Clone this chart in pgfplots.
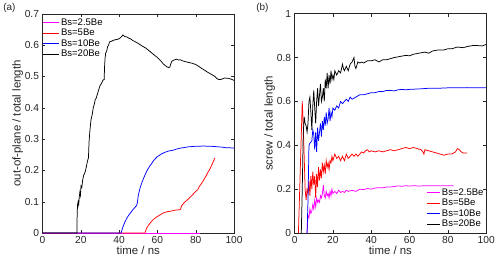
\documentclass[border=0pt]{standalone}
\usepackage{pgfplots}
\pgfplotsset{compat=1.18}
\usepackage{fontspec}
\setmainfont{Liberation Sans}
\definecolor{axgray}{rgb}{0.15,0.15,0.15}
\definecolor{mag}{rgb}{1,0,1}
\pgfplotsset{
  myax/.style={
    scale only axis, width=193pt, height=221pt,
    xmin=0, xmax=100, ymin=0,
    axis line style={axgray, line width=0.4pt},
    tick style={axgray, line width=0.4pt},
    tick align=inside, major tick length=3pt,
    xtick={0,20,40,60,80,100},
    tick label style={font=\fontsize{10.3}{12}\selectfont, text=axgray},
    label style={font=\fontsize{11.5}{14}\selectfont, text=axgray},
    /pgf/number format/assume math mode=true,
    yticklabel style={/pgf/number format/fixed},
    legend style={draw=none, fill=none, font=\fontsize{9.6}{11}\selectfont, row sep=-0.5pt, inner sep=1pt,
      nodes={inner sep=1.5pt}},
    legend cell align=left,
    every axis plot/.append style={line width=0.75pt},
    xlabel={time / ns},
    xlabel shift=-4pt,
  }
}
\begin{document}
\begin{tikzpicture}
\path (-41pt,-32pt) rectangle (457pt,231pt);
\begin{axis}[myax, ymax=0.7, ytick={0,0.1,0.2,0.3,0.4,0.5,0.6,0.7},
  ylabel={out-of-plane / total length}, ylabel shift=-5pt,
  legend image code/.code={\draw[#1, line width=1pt] (0pt,0pt) -- (16pt,0pt);},
  legend style={at={(0.0,1.0)}, anchor=north west, xshift=-1pt, yshift=-2pt}]
\addplot[mag] coordinates {(0,0)(82,0)};
\addplot[red] coordinates {(0,0)(53.5,0)(54,0.01)(55,0.022)(56,0.03)(57,0.038)(58,0.044)(60,0.053)(62,0.06)(63,0.064)(65,0.068)(66,0.069)(68,0.071)(69,0.073)(71,0.074)(72,0.075)(72.5,0.085)(73,0.09)(74,0.097)(76,0.108)(78,0.12)(80,0.133)(81,0.138)(82,0.15)(83,0.158)(84,0.168)(85,0.178)(86,0.19)(87,0.2)(88,0.212)(89,0.226)(90,0.24)};
\addplot[blue] coordinates {(0,0)(41,0)(41.5,0.01)(42,0.02)(43,0.035)(44,0.047)(45,0.057)(46,0.065)(47,0.073)(48,0.08)(49,0.087)(49.5,0.095)(50,0.12)(51,0.145)(52,0.163)(53,0.178)(54,0.192)(55,0.204)(56,0.214)(57,0.222)(58,0.231)(59,0.238)(60,0.244)(62,0.252)(64,0.258)(66,0.262)(68,0.264)(70,0.268)(72,0.271)(74,0.273)(76,0.275)(78,0.276)(80,0.277)(82,0.277)(84,0.278)(86,0.277)(88,0.277)(90,0.276)(92,0.275)(94,0.274)(96,0.272)(98,0.272)(100,0.271)};
\addplot[black] coordinates {(0,0)(18,0)(18.1,0.06)(18.3,0.09)(18.6,0.1)(18.9,0.09)(19.2,0.115)(19.5,0.13)(19.8,0.12)(20.1,0.15)(20.5,0.145)(21,0.17)(21.5,0.185)(22,0.19)(22.5,0.2)(23,0.215)(23.5,0.23)(24,0.24)(24.3,0.29)(24.8,0.33)(25.3,0.36)(26,0.38)(26.5,0.4)(27,0.41)(27.5,0.425)(28,0.43)(28.5,0.44)(29,0.45)(29.5,0.46)(30,0.47)(30.5,0.475)(31,0.48)(31.5,0.487)(32,0.49)(32.2,0.49)(32.4,0.53)(32.7,0.56)(33,0.575)(33.5,0.58)(34,0.595)(34.5,0.6)(35,0.61)(36,0.612)(37,0.615)(38,0.617)(39,0.618)(40,0.62)(41,0.625)(42,0.632)(43,0.627)(44,0.626)(45,0.622)(46,0.62)(47,0.615)(48,0.612)(50,0.605)(52,0.597)(54,0.59)(56,0.58)(58,0.57)(60,0.56)(62,0.548)(63,0.54)(64,0.535)(65,0.53)(66,0.528)(66.5,0.53)(67,0.54)(67.5,0.548)(68,0.55)(69,0.553)(70,0.555)(71,0.552)(72,0.553)(73,0.55)(74,0.548)(76,0.545)(78,0.542)(80,0.538)(82,0.53)(84,0.522)(86,0.514)(88,0.507)(90,0.5)(91,0.493)(92,0.49)(93,0.49)(94,0.492)(95,0.495)(96,0.494)(97,0.494)(98,0.492)(99,0.49)(100,0.487)};
\legend{Bs=2.5Be, Bs=5Be, Bs=10Be, Bs=20Be}
\end{axis}
\node[font=\fontsize{10}{12}\selectfont, text=axgray, anchor=north west] at (-43pt,235pt) {(a)};
\begin{axis}[myax, xshift=254pt, ymax=1, ytick={0,0.2,0.4,0.6,0.8,1},
  ylabel={screw / total length}, ylabel shift=-5pt,
  legend image code/.code={\draw[#1, line width=1.2pt] (0pt,0pt) -- (13pt,0pt);},
  legend style={at={(1.0,0.0)}, anchor=south east, xshift=0pt, yshift=2pt}]
\addplot[mag] coordinates {(6.5,0)(6.8,0.05)(7,0.08)(7.5,0.07)(8,0.11)(8.5,0.09)(9,0.1)(9.5,0.13)(10,0.11)(10.5,0.15)(11,0.12)(11.5,0.16)(12,0.14)(12.5,0.15)(13,0.14)(13.5,0.17)(14,0.16)(14.5,0.18)(15,0.22)(15.5,0.17)(16,0.16)(16.5,0.19)(17,0.17)(17.5,0.18)(18,0.16)(18.5,0.19)(19,0.17)(19.5,0.2)(20,0.18)(21,0.19)(22,0.18)(23,0.195)(24,0.185)(25,0.19)(26,0.185)(27,0.195)(28,0.19)(30,0.195)(32,0.19)(34,0.2)(36,0.198)(38,0.203)(40,0.2)(42,0.205)(44,0.207)(46,0.206)(48,0.21)(50,0.21)(52,0.212)(54,0.215)(56,0.213)(58,0.216)(60,0.214)(62,0.216)(65,0.214)(68,0.216)(70,0.215)(73,0.216)(76,0.215)(80,0.216)(83,0.215)};
\addplot[red] coordinates {(2,0)(3,0.3)(4,0.6)(4.5,0.5)(5,0.35)(5.5,0.2)(6,0.15)(6.5,0.2)(7,0.18)(7.5,0.24)(8,0.17)(8.5,0.26)(9,0.2)(9.5,0.28)(10,0.22)(10.5,0.26)(11,0.16)(11.5,0.27)(12,0.21)(12.5,0.3)(13,0.24)(13.5,0.29)(14,0.25)(14.5,0.32)(15,0.28)(15.5,0.31)(16,0.27)(16.5,0.33)(17,0.3)(17.5,0.32)(18,0.29)(18.5,0.33)(19,0.32)(19.5,0.35)(20,0.33)(21,0.36)(22,0.34)(23,0.35)(24,0.33)(25,0.35)(26,0.33)(27,0.36)(28,0.34)(29,0.35)(30,0.36)(31,0.35)(32,0.36)(33,0.35)(34,0.36)(35,0.37)(36,0.365)(37,0.375)(38,0.38)(39,0.37)(40,0.375)(42,0.37)(44,0.375)(46,0.37)(48,0.375)(50,0.38)(52,0.375)(54,0.38)(56,0.385)(58,0.39)(60,0.385)(62,0.39)(64,0.385)(66,0.38)(67,0.37)(67.5,0.36)(68,0.38)(70,0.375)(72,0.37)(74,0.365)(76,0.36)(78,0.355)(80,0.36)(82,0.36)(84,0.37)(85,0.385)(86,0.38)(87,0.37)(88,0.365)(90,0.365)};
\addplot[blue] coordinates {(6.5,0)(7,0.15)(7.5,0.4)(8,0.41)(9,0.42)(9.5,0.47)(10,0.45)(10.5,0.38)(11,0.46)(11.5,0.37)(12,0.48)(12.5,0.42)(13,0.46)(13.5,0.5)(14,0.44)(14.5,0.51)(15,0.47)(15.5,0.53)(16,0.49)(16.5,0.55)(17,0.5)(17.5,0.52)(18,0.57)(18.5,0.51)(19,0.55)(19.5,0.53)(20,0.57)(21,0.56)(22,0.58)(23,0.57)(24,0.6)(25,0.59)(26,0.6)(27,0.61)(28,0.6)(29,0.62)(30,0.61)(32,0.62)(34,0.63)(36,0.63)(38,0.635)(40,0.64)(42,0.64)(44,0.645)(46,0.645)(48,0.65)(50,0.65)(52,0.648)(54,0.653)(56,0.655)(58,0.653)(60,0.655)(65,0.657)(70,0.66)(75,0.66)(80,0.662)(85,0.662)(90,0.663)(95,0.662)(100,0.662)};
\addplot[black] coordinates {(3.5,0)(4,0.2)(4.5,0.45)(5,0.53)(5.5,0.5)(6,0.49)(6.5,0.46)(7,0.5)(7.5,0.6)(8,0.62)(8.5,0.55)(9,0.47)(9.5,0.58)(10,0.65)(10.5,0.57)(11,0.5)(11.5,0.6)(12,0.66)(12.5,0.58)(13,0.63)(13.5,0.68)(14,0.6)(14.5,0.62)(15,0.66)(15.5,0.6)(16,0.7)(16.5,0.66)(17,0.73)(17.5,0.66)(18,0.72)(18.5,0.68)(19,0.74)(19.5,0.7)(20,0.72)(20.5,0.7)(21,0.74)(22,0.72)(23,0.74)(24,0.73)(25,0.77)(25.5,0.75)(26,0.74)(27,0.76)(28,0.74)(29,0.77)(30,0.78)(31,0.8)(31.5,0.76)(32,0.75)(33,0.78)(34,0.775)(35,0.78)(36,0.775)(38,0.785)(40,0.785)(42,0.79)(44,0.78)(46,0.79)(48,0.79)(50,0.795)(52,0.8)(55,0.805)(58,0.81)(60,0.808)(62,0.815)(65,0.82)(68,0.825)(70,0.82)(72,0.83)(75,0.835)(78,0.835)(80,0.84)(82,0.84)(85,0.848)(88,0.845)(90,0.85)(93,0.855)(95,0.855)(98,0.853)(100,0.86)};
\legend{Bs=2.5Be, Bs=5Be, Bs=10Be, Bs=20Be}
\end{axis}
\node[font=\fontsize{10}{12}\selectfont, text=axgray, anchor=north west] at (212pt,235pt) {(b)};
\end{tikzpicture}
\end{document}
